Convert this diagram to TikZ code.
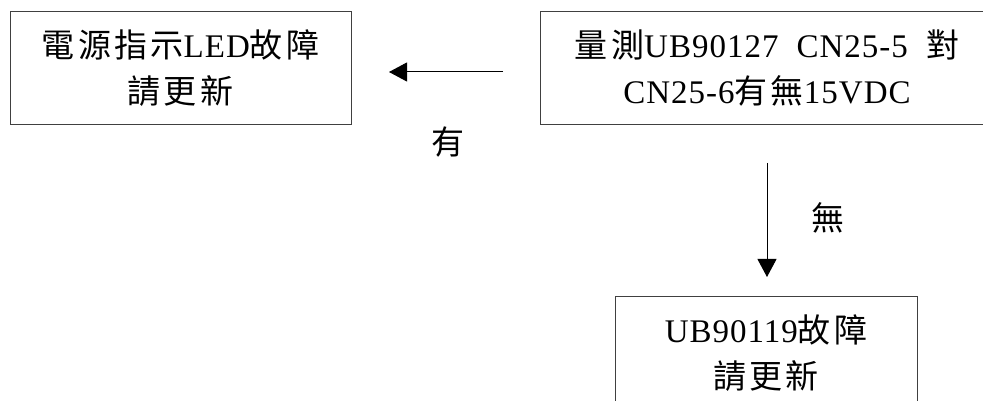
\documentclass[tikz,border=0pt]{standalone}
\usepackage{fontspec}
\setmainfont{Liberation Serif}[LetterSpace=3]
\newfontfamily\cjk{Noto Sans CJK TC}[LetterSpace=10]
\newcommand\zh[1]{{\cjk #1}}
\newcommand\hsp{\hspace{0.55em}}
\usetikzlibrary{arrows.meta}
\tikzset{
  boxnode/.style={draw=black!75, line width=1pt, align=center, inner sep=0pt,
    font=\fontsize{33}{46}\selectfont},
  lbl/.style={inner sep=0pt, font=\fontsize{33}{40}\selectfont},
  conn/.style={line width=1pt, -{Triangle[length=18pt,width=19pt]}}
}
\begin{document}
\begin{tikzpicture}[x=1pt,y=1pt]
\useasboundingbox (0,0) rectangle (983,401);
\clip (0,0) rectangle (983,401);
\node[boxnode, minimum width=341pt, minimum height=113pt] (b1) at (180.5,332.5)
  {\zh{電源指示}LED\zh{故障}\\\zh{請更新}};
\node[boxnode, minimum width=454pt, minimum height=113pt] (b2) at (767,332.5)
  {\zh{量測}UB90127\hsp CN25-5\hsp\zh{對}\\CN25-6\zh{有無}15VDC};
\node[boxnode, minimum width=302pt, minimum height=112pt] (b3) at (766,48)
  {UB90119\zh{故障}\\\zh{請更新}};
\coordinate (h1) at (503,329);
\coordinate (h2) at (389,329);
\coordinate (v1) at (767,238);
\coordinate (v2) at (767,124);
\draw[conn] (h1) -- (h2);
\draw[conn] (v1) -- (v2);
\node[lbl] (yes) at (447.5,259) {\zh{有}};
\node[lbl] (no) at (828,183) {\zh{無}};
\end{tikzpicture}
\end{document}
